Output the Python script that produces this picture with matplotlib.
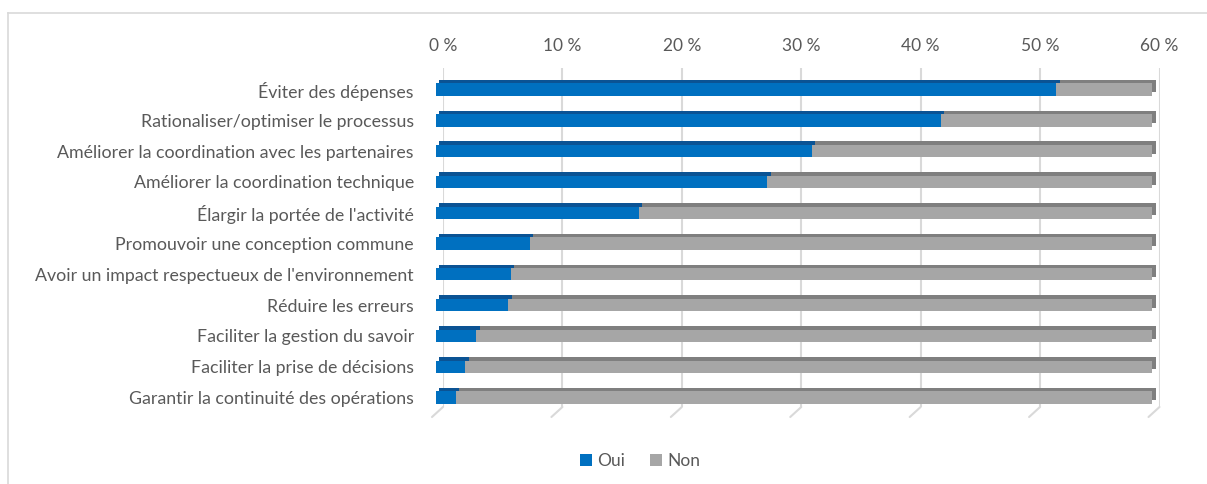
import matplotlib
matplotlib.use("Agg")
import matplotlib.pyplot as plt
from matplotlib.transforms import offset_copy
from matplotlib.lines import Line2D
from matplotlib.patches import Patch
import numpy as np

plt.rcParams['font.family'] = ['Lato', 'DejaVu Sans']

categories = [
    "Éviter des dépenses",
    "Rationaliser/optimiser le processus",
    "Améliorer la coordination avec les partenaires",
    "Améliorer la coordination technique",
    "Élargir la portée de l'activité",
    "Promouvoir une conception commune",
    "Avoir un impact respectueux de l'environnement",
    "Réduire les erreurs",
    "Faciliter la gestion du savoir",
    "Faciliter la prise de décisions",
    "Garantir la continuité des opérations",
]
oui = [52.0, 42.3, 31.5, 27.8, 17.0, 7.9, 6.3, 6.1, 3.4, 2.5, 1.7]
non = [8.0, 17.7, 28.5, 32.2, 43.0, 52.1, 53.7, 53.9, 56.6, 57.5, 58.3]
xticks = [0, 10, 20, 30, 40, 50, 60]
xtick_labels = ["0 %", "10 %", "20 %", "30 %", "40 %", "50 %", "60 %"]
series_names = ["Oui", "Non"]

BLUE = "#0070C0"
BLUE_DARK = "#0B5394"
GRAY = "#A6A6A6"
GRAY_DARK = "#7F7F7F"
GRID = "#D9D9D9"
TEXT = "#595959"

W, H = 1207, 484
fig = plt.figure(figsize=(W / 100, H / 100), dpi=100)
ax = fig.add_axes([443 / W, 1 - 407 / H, (1159.5 - 443) / W, (407 - 68) / H])

y = np.arange(len(categories))
oui_a = np.array(oui)
non_a = np.array(non)
h = 0.40

front = offset_copy(ax.transData, x=-7.5, y=0, units='dots')
depth = offset_copy(ax.transData, x=-4.0, y=3.5, units='dots')

# depth (top / side faces)
ax.barh(y, oui_a, left=0, height=h, color=BLUE_DARK, linewidth=0,
        transform=depth, clip_on=False, zorder=2)
ax.barh(y, non_a, left=oui_a, height=h, color=GRAY_DARK, linewidth=0,
        transform=depth, clip_on=False, zorder=2)
# front faces
ax.barh(y, oui_a, left=0, height=h, color=BLUE, linewidth=0,
        transform=front, clip_on=False, zorder=3)
ax.barh(y, non_a, left=oui_a, height=h, color=GRAY, linewidth=0,
        transform=front, clip_on=False, zorder=3)

ax.set_xlim(0, 60)
ax.set_ylim(len(categories) - 1 + 0.31, -0.70)

ax.xaxis.tick_top()
ax.set_xticks(xticks)
ax.set_xticklabels(xtick_labels, fontsize=12.5, color=TEXT)
ax.set_yticks(y)
ax.set_yticklabels(categories, fontsize=12.8, color=TEXT)
ax.tick_params(axis='x', length=0, pad=10)
ax.tick_params(axis='y', length=0, pad=21)
for s in ax.spines.values():
    s.set_visible(False)
ax.grid(axis='x', color=GRID, linewidth=1.5, zorder=0)
ax.set_axisbelow(True)

# floor slants
ybot = ax.get_ylim()[0]
for xt in xticks:
    ax.annotate('', xy=(xt, ybot), xycoords='data', xytext=(-11, -10),
                textcoords='offset pixels', annotation_clip=False,
                arrowprops=dict(arrowstyle='-', color=GRID, lw=1.5,
                                shrinkA=0, shrinkB=0))

# outer frame (top and left)
fig.add_artist(Line2D([8 / W, 1], [1 - 12.5 / H] * 2, transform=fig.transFigure,
                      color=GRID, lw=1.2))
fig.add_artist(Line2D([8 / W] * 2, [0, 1 - 12.5 / H], transform=fig.transFigure,
                      color=GRID, lw=1.2))

handles = [Patch(facecolor=BLUE, edgecolor='none'), Patch(facecolor=GRAY, edgecolor='none')]
fig.legend(handles, series_names, loc='center', bbox_to_anchor=(640 / W, 1 - 461 / H),
           ncol=2, frameon=False, handlelength=0.7, handleheight=0.7,
           handletextpad=0.3, columnspacing=1.4, fontsize=12.5, labelcolor=TEXT)

fig.savefig("out.png", dpi=100)
